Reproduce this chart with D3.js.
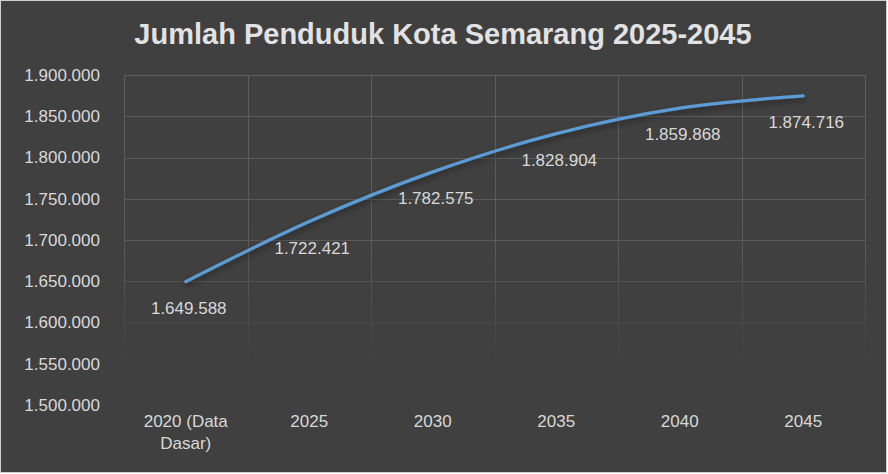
<!DOCTYPE html>
<html>
<head>
<meta charset="utf-8">
<script src="https://cdn.jsdelivr.net/npm/d3@7/dist/d3.min.js"></script>
<style>
  html, body { margin: 0; padding: 0; background: #fff; }
  svg { display: block; font-family: "Liberation Sans", Arial, sans-serif; }
</style>
</head>
<body>
<svg id="chart" width="888" height="474"></svg>
<script>
var categories = ["2020 (Data Dasar)", "2025", "2030", "2035", "2040", "2045"];
var population = [1649588, 1722421, 1782575, 1828904, 1859868, 1874716];
var yTicks = [1500000, 1550000, 1600000, 1650000, 1700000, 1750000, 1800000, 1850000, 1900000];

var svgWidth = 888, svgHeight = 474;
var margin = { top: 75, right: 23, bottom: 69, left: 124 };
var width = svgWidth - margin.left - margin.right;
var height = svgHeight - margin.top - margin.bottom;

var svg = d3.select("#chart");

// background + border
svg.append("rect")
    .attr("x", 0.5).attr("y", 0.5)
    .attr("width", svgWidth - 2).attr("height", svgHeight - 2)
    .attr("fill", "#404040")
    .attr("stroke", "#d0d0d0");

var defs = svg.append("defs");
var grad = defs.append("linearGradient")
    .attr("id", "gridFade")
    .attr("gradientUnits", "userSpaceOnUse")
    .attr("x1", 0).attr("y1", 0).attr("x2", 0).attr("y2", height);
grad.append("stop").attr("offset", "0%").attr("stop-color", "#5e5e5e");
grad.append("stop").attr("offset", "55%").attr("stop-color", "#595959");
grad.append("stop").attr("offset", "88%").attr("stop-color", "#404040");

var shadow = defs.append("filter").attr("id", "shadow")
    .attr("x", "-10%").attr("y", "-20%").attr("width", "120%").attr("height", "160%");
shadow.append("feDropShadow")
    .attr("dx", 0).attr("dy", 3).attr("stdDeviation", 3)
    .attr("flood-color", "#000").attr("flood-opacity", 0.45);

// title
svg.append("text")
    .attr("x", svgWidth / 2 - 1).attr("y", 44)
    .attr("text-anchor", "middle")
    .attr("fill", "#e2e2e2")
    .attr("font-size", 29).attr("font-weight", "bold")
    .text("Jumlah Penduduk Kota Semarang 2025-2045");

var g = svg.append("g").attr("transform", "translate(" + margin.left + "," + margin.top + ")");

var x = d3.scaleBand().domain(categories).range([0, width]);
var y = d3.scaleLinear().domain([1500000, 1900000]).range([height, 0]);

var fmt = function (d) { return d3.format(",")(d).replace(/,/g, "."); };

// grid, fading out toward the bottom
var grid = g.append("g").attr("class", "grid");
grid.selectAll("line.h")
    .data(yTicks.slice(1))
    .enter().append("line")
    .attr("x1", 0).attr("x2", width)
    .attr("y1", function (d) { return Math.round(y(d)) + 0.5; })
    .attr("y2", function (d) { return Math.round(y(d)) + 0.5; })
    .attr("stroke", "url(#gridFade)");
grid.selectAll("line.v")
    .data(d3.range(categories.length + 1))
    .enter().append("line")
    .attr("x1", function (i) { return Math.round(i * x.bandwidth()) + 0.5; })
    .attr("x2", function (i) { return Math.round(i * x.bandwidth()) + 0.5; })
    .attr("y1", 0).attr("y2", height)
    .attr("stroke", "url(#gridFade)");

// y axis
var yAxis = g.append("g")
    .call(d3.axisLeft(y).tickValues(yTicks).tickFormat(fmt).tickSize(0).tickPadding(24));
yAxis.select(".domain").remove();
yAxis.selectAll("text")
    .attr("fill", "#d9d9d9")
    .attr("font-size", 17)
    .attr("font-family", "Liberation Sans, Arial, sans-serif");

// x axis
var xAxis = g.append("g")
    .attr("transform", "translate(0," + height + ")")
    .call(d3.axisBottom(x).tickSize(0).tickPadding(10));
xAxis.select(".domain").remove();
xAxis.selectAll("text")
    .attr("fill", "#d9d9d9")
    .attr("font-size", 17)
    .attr("font-family", "Liberation Sans, Arial, sans-serif")
    .each(function (d) {
        var t = d3.select(this);
        if (d.indexOf(" (") > 0) {
            var parts = ["2020 (Data", "Dasar)"];
            t.text(null);
            t.append("tspan").attr("x", 0).attr("dy", "0.71em").text(parts[0]);
            t.append("tspan").attr("x", 0).attr("dy", "1.3em").text(parts[1]);
            t.attr("dy", null);
        }
    });

// line
var line = d3.line()
    .curve(d3.curveMonotoneX)
    .x(function (d, i) { return x(categories[i]) + x.bandwidth() / 2; })
    .y(function (d) { return y(d); });

g.append("path")
    .datum(population)
    .attr("d", line)
    .attr("fill", "none")
    .attr("stroke", "#5b9bd5")
    .attr("stroke-width", 3.2)
    .attr("stroke-linecap", "round")
    .attr("filter", "url(#shadow)");

// labels
g.selectAll("text.lbl")
    .data(population)
    .enter().append("text")
    .attr("class", "lbl")
    .attr("x", function (d, i) { return x(categories[i]) + x.bandwidth() / 2 + 3; })
    .attr("y", function (d) { return y(d) + 32; })
    .attr("text-anchor", "middle")
    .attr("fill", "#d9d9d9")
    .attr("font-size", 17)
    .text(fmt);
</script>
</body>
</html>
